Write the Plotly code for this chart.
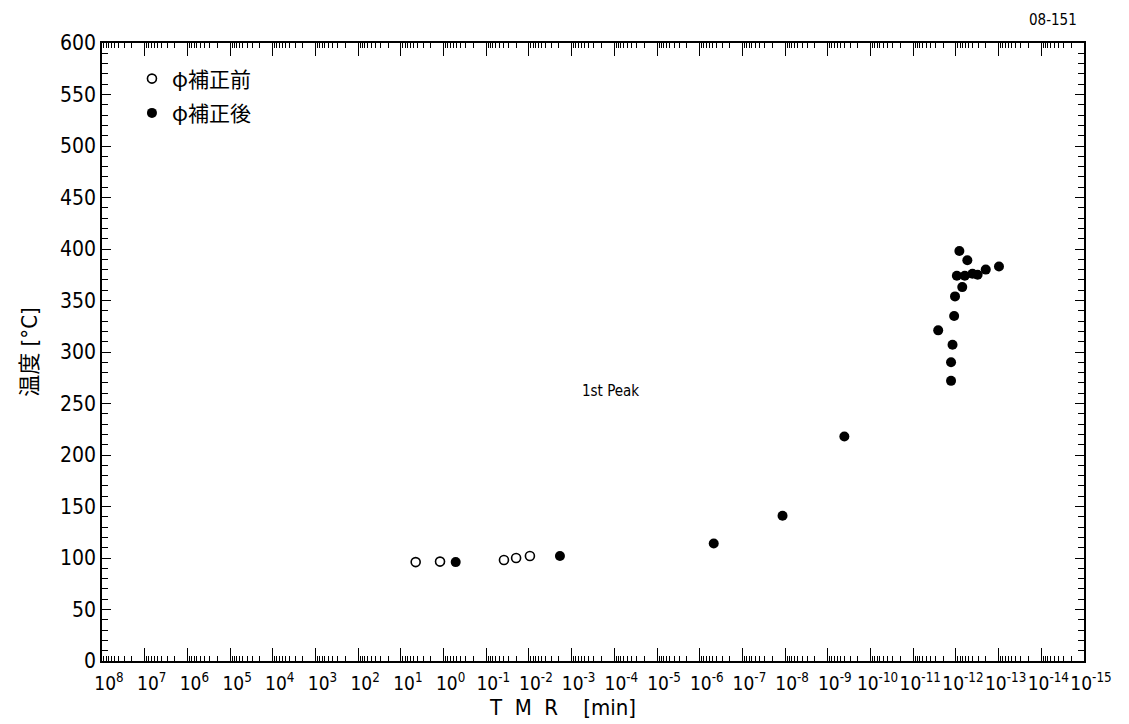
import plotly.graph_objects as go

# TMR [min] and temperature [°C] before phi correction
before_tmr = [4.5, 1.21, 0.0385, 0.020, 0.0095]
before_temp = [96, 96.5, 98, 100, 102]

# TMR [min] and temperature [°C] after phi correction
after_tmr = [0.52, 0.00188, 4.7e-7, 1.15e-8, 4.1e-10,
             8.3e-13, 5.4e-13, 9.5e-13, 6.2e-13, 4.1e-13, 3.1e-13, 2.0e-13, 9.8e-14,
             7.1e-13, 1.05e-12, 1.1e-12, 2.6e-12, 1.2e-12, 1.3e-12, 1.3e-12]
after_temp = [96, 102, 114, 141, 218,
              398, 389, 374, 374, 376, 375, 380, 383,
              363, 354, 335, 321, 307, 290, 272]

series_names = ["φ補正前", "φ補正後"]
x_exponents = list(range(8, -16, -1))
y_ticks = list(range(0, 601, 50))

FONT = "Liberation Sans Narrow, DejaVu Sans Condensed, Noto Sans CJK JP, sans-serif"

minor_x = [k * 10.0 ** e for e in range(-15, 8) for k in range(2, 10)]

fig = go.Figure()
fig.add_trace(go.Scatter(
    x=before_tmr, y=before_temp, mode="markers", name=series_names[0],
    legendgroup="a",
    marker=dict(symbol="circle-open", size=9, color="black", line=dict(width=1.6)),
))
fig.add_trace(go.Scatter(
    x=after_tmr, y=after_temp, mode="markers", name=series_names[1],
    legendgroup="b",
    marker=dict(symbol="circle", size=10, color="black"),
))

fig.update_xaxes(
    type="log", range=[8, -15], automargin=False,
    tickmode="array",
    tickvals=[10.0 ** e for e in x_exponents],
    ticktext=[f"10<sup>{'-' if e < 0 else ''}{abs(e)}</sup>" for e in x_exponents],
    tickangle=0, ticklabelshift=-7, ticklabelstandoff=4,
    ticks="inside", ticklen=13, tickwidth=1.3, tickcolor="black",
    minor=dict(ticks="inside", ticklen=5, tickwidth=1, tickcolor="black",
               tickmode="array", tickvals=minor_x, showgrid=False),
    showline=True, linecolor="black", linewidth=1.5, mirror="allticks",
    showgrid=False, zeroline=False,
    tickfont=dict(size=19, color="black", family=FONT),
)
fig.update_yaxes(
    range=[0, 600], tickvals=y_ticks, automargin=False,
    ticks="inside", ticklen=9, tickwidth=1.3, tickcolor="black",
    minor=dict(ticks="inside", ticklen=6, tickwidth=1, tickcolor="black", dtick=10, showgrid=False),
    showline=True, linecolor="black", linewidth=1.5, mirror="allticks",
    showgrid=False, zeroline=False,
    tickfont=dict(size=21, color="black", family=FONT),
    title=dict(text="温度 [°C]", font=dict(size=22, color="black", family=FONT), standoff=16),
)

# axis title for TMR, placed as text below the tick labels
fig.add_annotation(text="T  M  R    [min]", x=0.469, y=-0.0745, xref="paper", yref="paper",
                   yanchor="middle", showarrow=False,
                   font=dict(size=22, color="black", family=FONT))
fig.add_annotation(text="1st Peak", x=0.518, y=0.437, xref="paper", yref="paper",
                   showarrow=False, font=dict(size=15, color="black", family=FONT))
fig.add_annotation(text="08-151", x=0.995, y=1.02, xref="paper", yref="paper",
                   xanchor="right", yanchor="bottom", showarrow=False,
                   font=dict(size=15, color="black", family=FONT))

fig.update_layout(
    width=1129, height=724,
    margin=dict(l=102, r=45, t=43, b=63, autoexpand=False),
    paper_bgcolor="white", plot_bgcolor="white",
    legend=dict(x=0.0305, y=0.975, xanchor="left", yanchor="top",
                bgcolor="rgba(0,0,0,0)", tracegroupgap=4,
                font=dict(size=21, color="black", family="Noto Sans CJK JP, sans-serif")),
)

fig.write_html("out.html")
